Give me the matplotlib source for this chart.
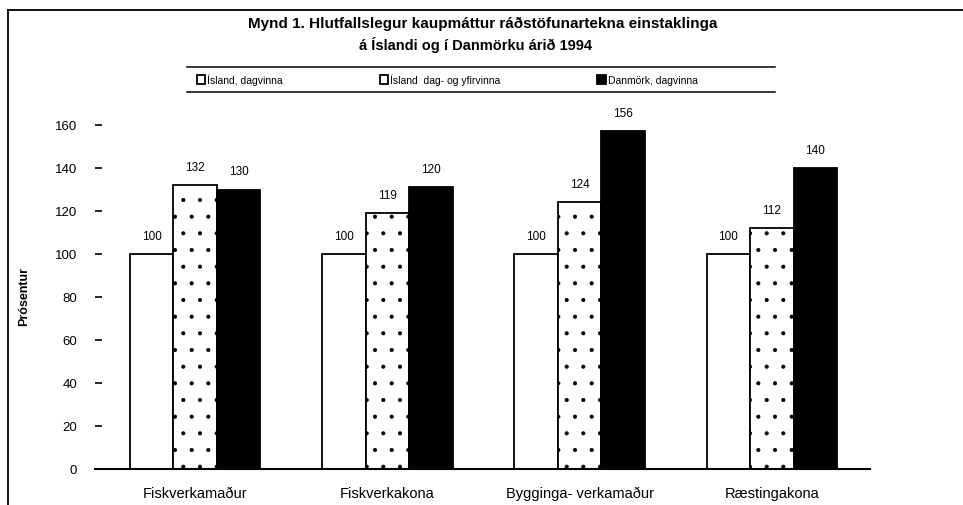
import matplotlib
matplotlib.use("Agg")
import matplotlib.pyplot as plt
from matplotlib.lines import Line2D
import numpy as np

plt.rcParams['font.family'] = ['Liberation Sans', 'DejaVu Sans']
plt.rcParams['hatch.linewidth'] = 0.5

categories = ["Fiskverkamaður", "Fiskverkakona", "Bygginga- verkamaður", "Ræstingakona"]
series_names = ["Ísland, dagvinna", "Ísland  dag- og yfirvinna", "Danmörk, dagvinna"]
island_dag = [100, 100, 100, 100]
island_dag_yfir = [132, 119, 124, 112]
danmork_dag = [130, 131, 157, 140]
label_island_dag = ["100", "100", "100", "100"]
label_island_dag_yfir = ["132", "119", "124", "112"]
label_danmork_dag = ["130", "120", "156", "140"]
yticks = [0, 20, 40, 60, 80, 100, 120, 140, 160]

W, H = 963, 506
fig = plt.figure(figsize=(W / 100, H / 100), dpi=100)
ax = fig.add_axes([95 / W, 1 - 470 / H, (870 - 95) / W, (470 - 126) / H])

x = np.arange(len(categories))
bw = 0.226
b1 = ax.bar(x - bw, island_dag, bw, color='white', edgecolor='black', linewidth=1.3, label=series_names[0])
b2 = ax.bar(x, island_dag_yfir, bw, color='white', edgecolor='black', linewidth=1.3, hatch='.', label=series_names[1])
b3 = ax.bar(x + bw, danmork_dag, bw, color='black', edgecolor='black', linewidth=1.3, label=series_names[2])

for bars, labs in ((b1, label_island_dag), (b2, label_island_dag_yfir), (b3, label_danmork_dag)):
    for rect, lab in zip(bars, labs):
        ax.annotate(lab, (rect.get_x() + rect.get_width() / 2, rect.get_height()),
                    xytext=(0, 13), textcoords='offset points', ha='center', va='center',
                    fontsize=8.5, annotation_clip=False)

ax.set_xlim(-0.52, 3.51)
ax.set_ylim(0, 160)
ax.set_yticks(yticks)
ax.set_yticklabels([str(t) for t in yticks], fontsize=9.5)
ax.tick_params(axis='y', direction='in', length=5, width=1.2, pad=13)
ax.set_xticks(x)
ax.set_xticklabels(categories, fontsize=10.5)
ax.tick_params(axis='x', length=0, pad=12)
for s in ('top', 'right', 'left'):
    ax.spines[s].set_visible(False)
ax.spines['bottom'].set_linewidth(1.5)
ax.set_ylabel("Prósentur", fontsize=9, fontweight='bold', labelpad=0)
ax.yaxis.set_label_coords((30 - 95) / (870 - 95), (470 - 297) / (470 - 126))

fig.text(483 / W, 1 - 24 / H, "Mynd 1. Hlutfallslegur kaupmáttur ráðstöfunartekna einstaklinga",
         ha='center', va='center', fontsize=11, fontweight='bold')
fig.text(476 / W, 1 - 45 / H, "á Íslandi og í Danmörku árið 1994",
         ha='center', va='center', fontsize=10.5, fontweight='bold')

leg = fig.legend(handles=[b1, b2, b3], labels=series_names, loc='center left',
                 bbox_to_anchor=(197 / W, 1 - 80.5 / H), ncol=3, frameon=False,
                 fontsize=7.5, handlelength=0.8, handleheight=0.9, handletextpad=0.2,
                 columnspacing=9.3, borderpad=0, borderaxespad=0)

for yy in (68, 93):
    fig.add_artist(Line2D([187 / W, 775 / W], [1 - yy / H, 1 - yy / H], color='black', linewidth=1.1))
fig.add_artist(Line2D([8 / W, 1.0], [1 - 11 / H, 1 - 11 / H], color='black', linewidth=1.3))
fig.add_artist(Line2D([8 / W, 8 / W], [1 - 11 / H, 0], color='black', linewidth=1.3))

fig.savefig("out.png", dpi=100)
